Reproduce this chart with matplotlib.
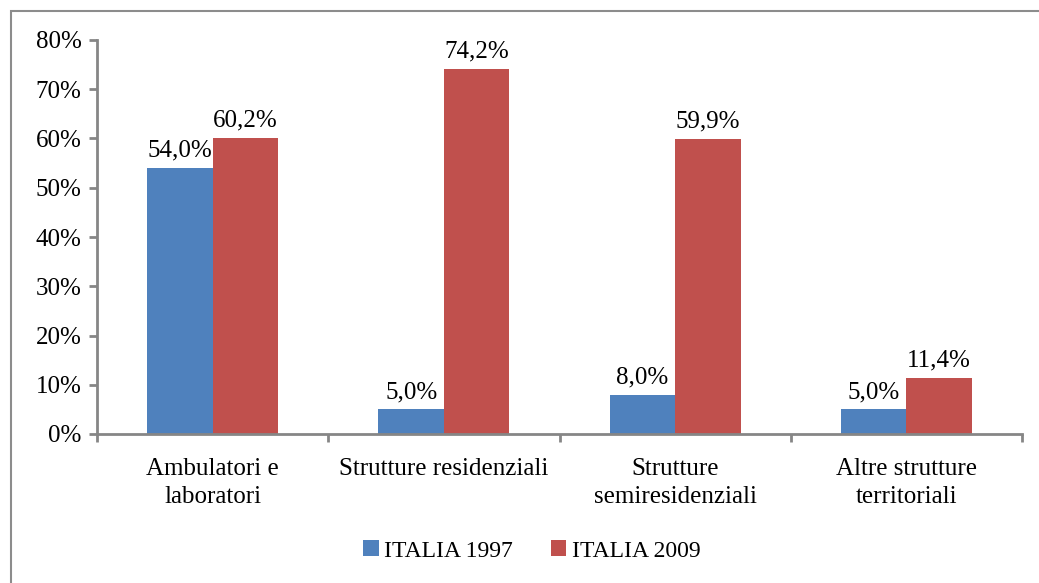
import numpy as np
import matplotlib.pyplot as plt
from matplotlib.patches import Rectangle

categories = ["Ambulatori e\nlaboratori", "Strutture residenziali",
              "Strutture\nsemiresidenziali", "Altre strutture\nterritoriali"]
italia_1997 = [54.0, 5.0, 8.0, 5.0]
italia_2009 = [60.2, 74.2, 59.9, 11.4]
yticks = [0, 10, 20, 30, 40, 50, 60, 70, 80]

blue = '#4F81BD'
red = '#C0504D'
axis_col = '#868686'

plt.rcParams['font.family'] = ['Liberation Serif', 'DejaVu Serif']

fig = plt.figure(figsize=(10.39, 5.83), dpi=100)
ax = fig.add_axes([97/1039, 149/583, 925/1039, 394/583])

x = np.arange(len(categories))
w = 0.283
b1 = ax.bar(x - w/2, italia_1997, w, color=blue, label='ITALIA 1997')
b2 = ax.bar(x + w/2, italia_2009, w, color=red, label='ITALIA 2009')

for bars in (b1, b2):
    for rect in bars:
        v = rect.get_height()
        ax.annotate(f"{v:.1f}%".replace('.', ','),
                    (rect.get_x() + rect.get_width()/2, v),
                    xytext=(0, 4.5), textcoords='offset points',
                    ha='center', va='bottom', fontsize=18)

ax.set_xlim(-0.5, len(categories) - 0.5)
ax.set_ylim(0, 80)
ax.set_yticks(yticks)
ax.set_yticklabels([f"{t}%" for t in yticks], fontsize=18)

# category ticks at the boundaries, labels in the middle
ax.set_xticks(np.arange(-0.5, len(categories)), minor=False)
ax.set_xticklabels([])
ax.set_xticks(x, minor=True)
ax.set_xticklabels(categories, minor=True, fontsize=18, linespacing=1.4)
ax.tick_params(axis='x', which='minor', length=0, pad=17)
ax.tick_params(axis='x', which='major', length=6, width=2, color=axis_col, direction='out')
ax.tick_params(axis='y', length=6, width=2, color=axis_col, direction='out', pad=5)

for s in ('top', 'right'):
    ax.spines[s].set_visible(False)
for s in ('left', 'bottom'):
    ax.spines[s].set_color(axis_col)
    ax.spines[s].set_linewidth(2)

fig.legend(handles=[b1, b2], loc='center', bbox_to_anchor=(532/1039, 1 - 551/583),
           ncol=2, frameon=False, fontsize=17, handlelength=0.65, handleheight=0.65,
           handletextpad=0.25, columnspacing=1.6)

fig.patches.append(Rectangle((11/1039, -0.1), 1.2, 1 - 11/583 + 0.1,
                             transform=fig.transFigure, fill=False,
                             edgecolor='#8c8c8c', linewidth=1.5))

fig.savefig('out.png', dpi=100)
